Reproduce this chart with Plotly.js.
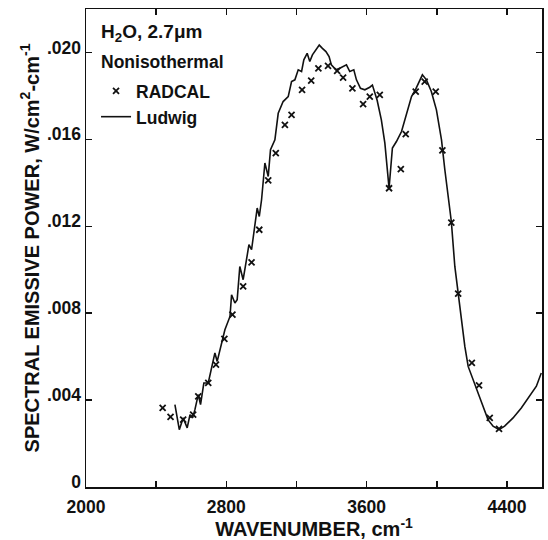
<!DOCTYPE html>
<html>
<head>
<meta charset="utf-8">
<script src="https://cdn.plot.ly/plotly-3.0.1.min.js"></script>
<style>html,body{margin:0;padding:0;background:#fff;}#chart{width:548px;height:540px;}</style>
</head>
<body>
<div id="chart"></div>
<script>
// Ludwig (line) wavenumber [cm^-1] and spectral emissive power [W/cm2-cm-1]
var ludwigX = [2507,2532,2554,2577,2593,2608,2621,2640,2653,2672,2697,2735,2748,2773,2792,2821,2830,2849,2862,2877,2896,2915,2929,2944,2976,2988,3001,3020,3039,3052,3077,3096,3124,3153,3172,3191,3210,3229,3242,3261,3276,3291,3311,3330,3348,3368,3386,3399,3425,3447,3485,3504,3527,3542,3565,3590,3618,3633,3660,3684,3704,3717,3728,3747,3770,3799,3837,3856,3880,3918,3941,3969,3998,4027,4046,4065,4083,4103,4122,4140,4160,4179,4207,4235,4264,4292,4321,4355,4387,4435,4482,4530,4568,4596];
var ludwigY = [0.00379,0.00264,0.00318,0.00272,0.00333,0.00318,0.00356,0.00425,0.00379,0.00479,0.00479,0.00617,0.00578,0.00655,0.00724,0.00785,0.00885,0.00847,0.00862,0.01015,0.00954,0.01046,0.01115,0.01092,0.01284,0.01245,0.01322,0.01491,0.01429,0.01552,0.01598,0.0172,0.01774,0.01797,0.01866,0.01874,0.0192,0.01912,0.01966,0.01996,0.01958,0.01989,0.02011,0.02034,0.02019,0.02004,0.01981,0.01943,0.0192,0.01927,0.01943,0.01912,0.0192,0.01874,0.01835,0.01828,0.0184,0.0185,0.0178,0.0169,0.01583,0.01475,0.01375,0.0156,0.0159,0.01636,0.01736,0.01797,0.01831,0.01897,0.01874,0.0182,0.01736,0.01598,0.0146,0.01322,0.01222,0.01015,0.00893,0.00755,0.00647,0.00555,0.00494,0.00433,0.00364,0.0031,0.0028,0.00264,0.0028,0.00318,0.00364,0.00418,0.00464,0.00525];

// RADCAL (x markers)
var radcalX = [2437,2482,2554,2611,2640,2697,2741,2789,2835,2896,2944,2988,3039,3082,3134,3172,3232,3284,3325,3380,3432,3466,3519,3580,3618,3675,3728,3795,3823,3880,3931,3994,4032,4083,4122,4200,4241,4302,4355];
var radcalY = [0.00364,0.00323,0.0031,0.00333,0.00417,0.00479,0.00563,0.00682,0.00793,0.00923,0.01034,0.01184,0.01411,0.01537,0.01667,0.01713,0.01828,0.0187,0.01927,0.01938,0.01915,0.01884,0.01835,0.01762,0.01797,0.01805,0.01375,0.01463,0.01624,0.0182,0.01866,0.0182,0.01549,0.01217,0.0089,0.00571,0.00468,0.00318,0.00268];

var xTickVals = [2000,2800,3600,4400];
var xTickText = ["2000","2800","3600","4400"];
var xMinorTickVals = [2400,3200,4000];
var yTickVals = [0,0.004,0.008,0.012,0.016,0.020];
var yTickText = ["0",".004",".008",".012",".016",".020"];

var FONT = "Liberation Sans, Arial, sans-serif";

var traces = [
  {x: radcalX, y: radcalY, mode: 'markers', type: 'scatter', name: 'RADCAL',
   marker: {symbol: 'x-thin', size: 6, color: '#111', line: {width: 1.8, color: '#111'}}},
  {x: ludwigX, y: ludwigY, mode: 'lines', type: 'scatter', name: 'Ludwig',
   line: {color: '#111', width: 1.6}}
];

var axisCommon = {showgrid: false, zeroline: false, showline: true, linecolor: '#111', linewidth: 1.5,
  mirror: 'ticks', ticks: 'inside', ticklen: 6, tickwidth: 1.5, tickcolor: '#111',
  tickfont: {family: FONT, size: 17.5, color: '#111', weight: 'bold'}};

var layout = {
  width: 548, height: 540,
  margin: {l: 86, r: 6, t: 9, b: 53},
  paper_bgcolor: '#fff', plot_bgcolor: '#fff',
  showlegend: true,
  legend: {x: 0.022, y: 0.866, xanchor: 'left', yanchor: 'top', bgcolor: 'rgba(0,0,0,0)',
    font: {family: FONT, size: 17.5, color: '#111', weight: 'bold'}},
  xaxis: Object.assign({}, axisCommon, {range: [2000, 4600], tickmode: 'array', tickvals: xTickVals, ticktext: xTickText,
    ticklabelstandoff: 3,
    minor: {tickmode: 'array', tickvals: xMinorTickVals, ticks: 'inside', ticklen: 6, tickwidth: 1.5, tickcolor: '#111', showgrid: false},
    title: {text: 'WAVENUMBER, cm<sup>-1</sup>', font: {family: FONT, size: 20, color: '#111', weight: 'bold'}, standoff: 0}}),
  yaxis: Object.assign({}, axisCommon, {range: [0, 0.022], tickvals: yTickVals, ticktext: yTickText,
    ticklabelshift: -5,
    title: {text: 'SPECTRAL EMISSIVE POWER, W/cm<sup>2</sup>-cm<sup>-1</sup>', font: {family: FONT, size: 20, color: '#111', weight: 'bold'}, standoff: 2}}),
  annotations: [
    {xref: 'paper', yref: 'paper', x: 0.029, y: 0.95, xanchor: 'left', yanchor: 'middle', showarrow: false,
     text: 'H<sub>2</sub>O, 2.7\u03bcm', font: {family: FONT, size: 19, color: '#111', weight: 'bold'}},
    {xref: 'paper', yref: 'paper', x: 0.029, y: 0.889, xanchor: 'left', yanchor: 'middle', showarrow: false,
     text: 'Nonisothermal', font: {family: FONT, size: 17.5, color: '#111', weight: 'bold'}}
  ]
};

Plotly.newPlot('chart', traces, layout, {staticPlot: true, displayModeBar: false});
</script>
</body>
</html>
